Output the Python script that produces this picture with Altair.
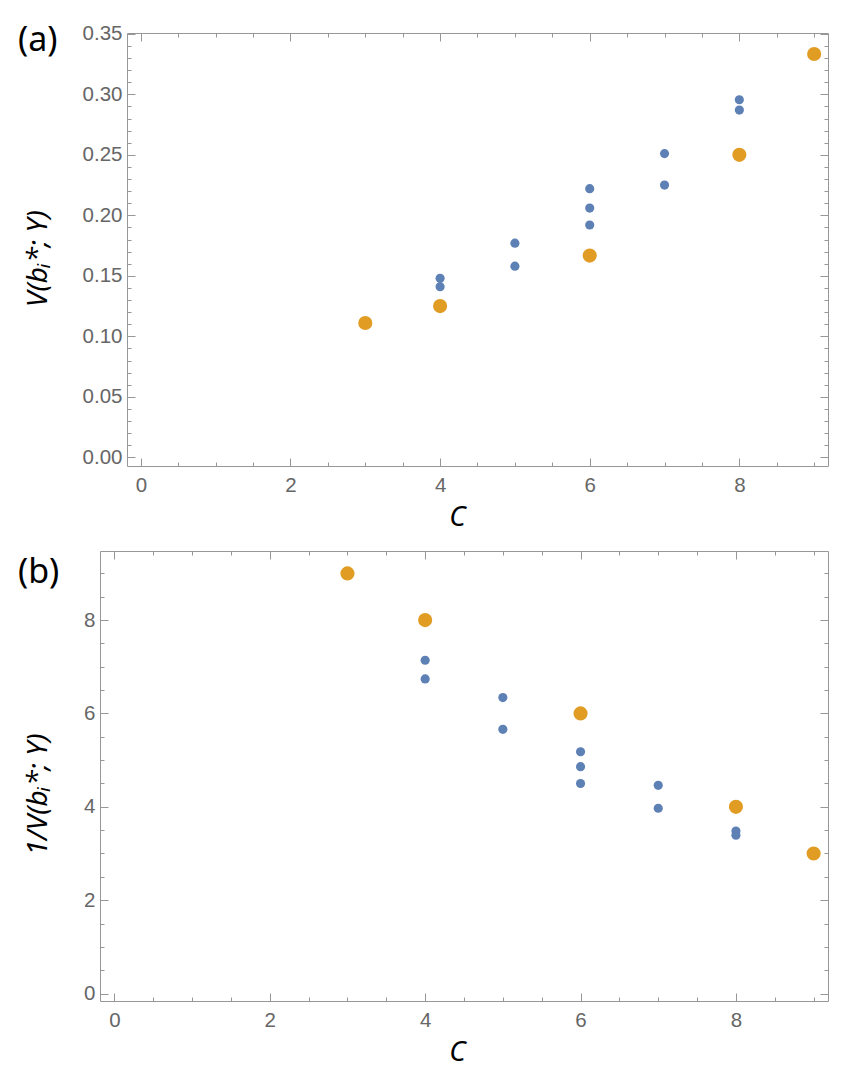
import altair as alt
import pandas as pd

# Panel (a): V(b_i*; Y) for each C
a_blue_c = [4, 4, 5, 5, 6, 6, 6, 7, 7, 8, 8]
a_blue_v = [0.148, 0.141, 0.177, 0.158, 0.222, 0.206, 0.192, 0.251, 0.225, 0.2955, 0.287]
a_orange_c = [3, 4, 6, 8, 9]
a_orange_v = [0.111, 0.125, 0.1667, 0.25, 0.3333]

# Panel (b): 1/V(b_i*; Y) for each C
b_blue_c = [4, 4, 5, 5, 6, 6, 6, 7, 7, 8, 8]
b_blue_v = [7.14, 6.74, 6.34, 5.66, 5.18, 4.86, 4.50, 4.46, 3.97, 3.48, 3.39]
b_orange_c = [3, 4, 6, 8, 9]
b_orange_v = [9, 8, 6, 4, 3]

# Tick positions
x_major = [0, 2, 4, 6, 8]
x_minor = [0.5, 1, 1.5, 2.5, 3, 3.5, 4.5, 5, 5.5, 6.5, 7, 7.5, 8.5, 9]
a_y_major = [0.0, 0.05, 0.10, 0.15, 0.20, 0.25, 0.30, 0.35]
a_y_minor = [round(k * 0.01, 2) for k in range(36) if k % 5]
b_y_major = [0, 2, 4, 6, 8]
b_y_minor = [k * 0.5 for k in range(19) if k % 4]

BLUE = "#5E81B5"
ORANGE = "#E19C24"
FRAME = "#979797"
LABEL = "#666666"
LABEL_FONT = "Liberation Sans"
TITLE_FONT = "Noto Sans"
X_DOMAIN = [-0.185, 9.185]
MAJOR, MINOR = 8, 4
WIDTH = 728


def tick_axis(orient, values, size, offset, **extra):
    """Inward ticks: the axis line is pushed inside the frame by its tick length."""
    return alt.Axis(orient=orient, values=values, tickSize=size, offset=offset,
                    domain=False, grid=False, ticks=True, tickColor=FRAME, tickWidth=1,
                    labels=extra.pop("labels", False), title=extra.pop("title", None),
                    labelFlush=False, labelOverlap=False, **extra)


def frame_axis(orient, offset):
    return alt.Axis(orient=orient, offset=offset, domain=True, domainColor=FRAME,
                    domainWidth=1, ticks=False, labels=False, grid=False, title=None)


def panel(blue_c, blue_v, orange_c, orange_v, y_dom, y_major, y_minor, y_fmt,
          y_title, title_x, title_y, tag, tag_y, height, shift):
    xs = alt.Scale(domain=X_DOMAIN, range=[shift, WIDTH], nice=False, zero=False)
    ys = alt.Scale(domain=y_dom, nice=False, zero=False)
    blue = pd.DataFrame({"c": blue_c, "v": blue_v})
    orange = pd.DataFrame({"c": orange_c, "v": orange_v})

    lab = dict(labels=True, labelFont=LABEL_FONT, labelFontSize=20.5, labelColor=LABEL)
    ttl = dict(titleFont=TITLE_FONT, titleFontSize=28, titleFontStyle="italic",
               titleFontWeight="normal", titleColor="black")

    def enc(xa, ya):
        return dict(x=alt.X("c:Q", scale=xs, axis=xa), y=alt.Y("v:Q", scale=ys, axis=ya))

    pts_blue = alt.Chart(blue).mark_circle(size=84, color=BLUE, opacity=1).encode(
        **enc(tick_axis("bottom", x_major, MAJOR, -MAJOR, format="d", labelPadding=9,
                        title="C", titleX=357, titleY=67, titleAlign="center",
                        titleBaseline="alphabetic", **lab, **ttl),
              tick_axis("left", y_major, MAJOR, -(shift + MAJOR), format=y_fmt,
                        labelPadding=5, title=y_title, titleAngle=270,
                        titleX=title_x, titleY=title_y, titleAlign="center",
                        titleBaseline="alphabetic", **lab, **ttl)))
    pts_orange = alt.Chart(orange).mark_circle(size=200, color=ORANGE, opacity=1).encode(
        **enc(tick_axis("bottom", x_minor, MINOR, -MINOR),
              tick_axis("left", y_minor, MINOR, -(shift + MINOR))))
    ghost = alt.Chart(blue).mark_circle(opacity=0)
    top_major = ghost.encode(**enc(tick_axis("top", x_major, MAJOR, -MAJOR),
                                   tick_axis("right", y_major, MAJOR, -MAJOR)))
    top_minor = ghost.encode(**enc(tick_axis("top", x_minor, MINOR, -MINOR),
                                   tick_axis("right", y_minor, MINOR, -MINOR)))
    frame_bl = ghost.encode(**enc(frame_axis("bottom", 0), frame_axis("left", -shift)))
    frame_tr = ghost.encode(**enc(frame_axis("top", 0), frame_axis("right", 0)))
    label = alt.Chart(pd.DataFrame({"tag": [tag]})).mark_text(
        align="left", baseline="middle", font=TITLE_FONT, fontSize=34, color="black"
    ).encode(text="tag:N", x=alt.value(-82), y=alt.value(tag_y))

    return alt.layer(pts_blue, pts_orange, top_major, top_minor, frame_bl, frame_tr,
                     label).resolve_axis(x="independent", y="independent").properties(
        width=WIDTH, height=height)


top = panel(a_blue_c, a_blue_v, a_orange_c, a_orange_v, [-0.0072, 0.3507],
            a_y_major, a_y_minor, ".2f", "V(bᵢ*; Y)", -89, 225, "(a)", 7.5, 433, 27)
bottom = panel(b_blue_c, b_blue_v, b_orange_c, b_orange_v, [-0.16, 9.48],
               b_y_major, b_y_minor, "d", "1/V(bᵢ*; Y)", -62, 243, "(b)", 22, 450, 0)

chart = alt.concat(top, bottom, columns=1, spacing=19).properties(
    padding={"left": 18, "top": 23, "right": 5, "bottom": 5}
).configure_view(strokeWidth=0)

chart.save("out.html", embed_options={"renderer": "svg", "actions": False})
